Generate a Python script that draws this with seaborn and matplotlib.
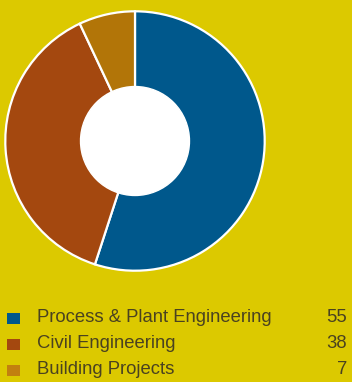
import matplotlib
matplotlib.use("Agg")
import matplotlib.pyplot as plt
import seaborn as sns
from matplotlib.patches import Circle

categories = ["Process & Plant Engineering", "Civil Engineering", "Building Projects"]
values = [55, 38, 7]
colors = ["#00588C", "#A4480F", "#B27508"]
legend_colors = ["#00588C", "#A4480F", "#C2800F"]

bg = "#DCC900"
text_color = "#4A4220"

sns.set_style("white")
plt.rcParams["font.family"] = ["Liberation Sans", "DejaVu Sans"]

W, H = 352, 382
fig = plt.figure(figsize=(W / 100, H / 100), dpi=100, facecolor=bg)

# donut chart
ax = fig.add_axes([4 / W, (H - 272) / H, 262 / W, 262 / H])
ax.set_facecolor(bg)
ax.pie(values, colors=colors, startangle=90, counterclock=False,
       wedgeprops=dict(edgecolor="white", linewidth=1.6))
ax.add_patch(Circle((0, 0), 0.42, facecolor="white", edgecolor="white", zorder=5))
ax.set_xlim(-1.01, 1.01)
ax.set_ylim(-1.01, 1.01)
ax.set_aspect("equal")
ax.axis("off")

# legend rows
rows_y = [318, 344, 370]
for y, cat, val, col in zip(rows_y, categories, values, legend_colors):
    fy = 1 - y / H
    fig.patches.append(plt.Rectangle((7 / W, fy - 5.5 / H), 13 / W, 11 / H,
                                     transform=fig.transFigure, facecolor=col,
                                     edgecolor="none"))
    fig.text(37 / W, fy, cat, color=text_color, fontsize=13.3, va="center", ha="left")
    fig.text(347 / W, fy, str(val), color=text_color, fontsize=13.3, va="center", ha="right")

fig.savefig("out.png", dpi=100, facecolor=bg)
